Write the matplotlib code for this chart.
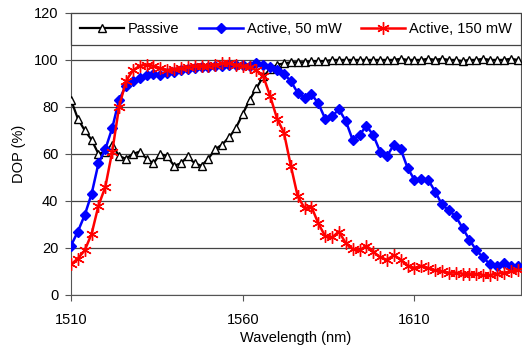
import matplotlib
matplotlib.use('Agg')
import matplotlib.pyplot as plt

plt.rcParams['font.family'] = ['Liberation Sans', 'DejaVu Sans']

# wavelength (nm), 2 nm steps
wavelength = [1510, 1512, 1514, 1516, 1518, 1520, 1522, 1524, 1526, 1528,
              1530, 1532, 1534, 1536, 1538, 1540, 1542, 1544, 1546, 1548,
              1550, 1552, 1554, 1556, 1558, 1560, 1562, 1564, 1566, 1568,
              1570, 1572, 1574, 1576, 1578, 1580, 1582, 1584, 1586, 1588,
              1590, 1592, 1594, 1596, 1598, 1600, 1602, 1604, 1606, 1608,
              1610, 1612, 1614, 1616, 1618, 1620, 1622, 1624, 1626, 1628,
              1630, 1632, 1634, 1636, 1638, 1640]

passive = [83, 75, 70, 66, 60, 61, 64, 59, 58, 60,
           61, 58, 56, 60, 59, 55, 56, 59, 56, 55,
           58, 62, 64, 67, 71, 77, 83, 88, 93, 96,
           98, 98.5, 99, 99, 99, 99.5, 99.5, 99.5, 100, 100,
           100, 100, 100, 100, 100, 100, 100, 100, 100.5, 100,
           100, 100, 100.5, 100, 100.5, 100, 100, 99.5, 100, 100,
           100.5, 100, 100, 100, 100.5, 100]

active_50 = [21, 27, 34, 43, 56, 62, 71, 83, 89, 91,
             92.5, 93.5, 94, 93.5, 94.5, 95, 95.5, 96, 96.5, 97,
             97, 97.5, 97.5, 98, 98, 98, 97.5, 98.5, 98, 97,
             95.5, 94, 91, 86, 84, 85.5, 81.5, 75, 76, 79,
             74, 66, 68, 72, 68, 61, 59, 64, 62, 54,
             49, 49.5, 49, 44, 38.5, 36, 33.5, 28.5, 23.5, 19,
             16, 13, 12.5, 13.5, 12.5, 12.5]

active_150 = [13, 15.5, 19, 26, 38, 46, 61, 80, 91, 95.5,
              97.5, 98, 97.5, 96.5, 95.5, 96, 96.5, 97, 97.5, 97.5,
              97.5, 98, 98.5, 98.5, 98, 97.5, 97, 95.5, 93, 84.5,
              75, 69, 55, 42, 37, 37.5, 30.5, 25, 24.5, 27,
              22, 19.5, 19, 21, 18.5, 16, 15, 17, 15, 12.5,
              11.5, 12.5, 11.5, 10.5, 10, 9.5, 9.5, 9, 9, 9,
              8.5, 8.5, 9, 9.5, 10, 10.5]

fig = plt.figure(figsize=(5.22, 3.58), dpi=100)
ax = fig.add_axes([0.136, 0.176, 0.862, 0.788])

ax.plot(wavelength, passive, color='black', lw=1.6, marker='^', ms=6,
        mfc='white', mec='black', mew=1.0, label='Passive', zorder=3)
ax.plot(wavelength, active_50, color='#0000ff', lw=1.8, marker='D', ms=5.5,
        mfc='#0000ff', mec='#0000ff', label='Active, 50 mW', zorder=4)
ax.plot(wavelength, active_150, color='#ff0000', lw=1.8, marker=(6, 2, 0), ms=9,
        mec='#ff0000', mew=1.0, label='Active, 150 mW', zorder=5)

ax.set_xlim(1510, 1641)
ax.set_ylim(0, 120)
ax.set_xticks([1510, 1560, 1610])
ax.set_yticks([0, 20, 40, 60, 80, 100, 120])
ax.yaxis.grid(True, color='#444444', lw=0.9)
ax.set_axisbelow(True)

for s in ax.spines.values():
    s.set_color('#555555')
ax.tick_params(axis='both', direction='out', colors='#555555', labelcolor='black',
               labelsize=10.5, length=4)
ax.tick_params(axis='x', pad=9)
ax.tick_params(axis='y', pad=5)

ax.set_xlabel('Wavelength (nm)', fontsize=10.5, labelpad=3)
ax.set_ylabel('DOP (%)', fontsize=10.5, labelpad=6)

leg = ax.legend(loc='upper left', bbox_to_anchor=(0, 0.887, 1, 0.113), mode='expand',
                ncol=3, fontsize=10.5, frameon=True, fancybox=False, framealpha=1,
                handlelength=3.0, handletextpad=0.3, columnspacing=0.6,
                borderaxespad=0, borderpad=0.62)
leg.get_frame().set_edgecolor('#444444')
leg.get_frame().set_linewidth(0.9)

fig.savefig('out.png', dpi=100)
